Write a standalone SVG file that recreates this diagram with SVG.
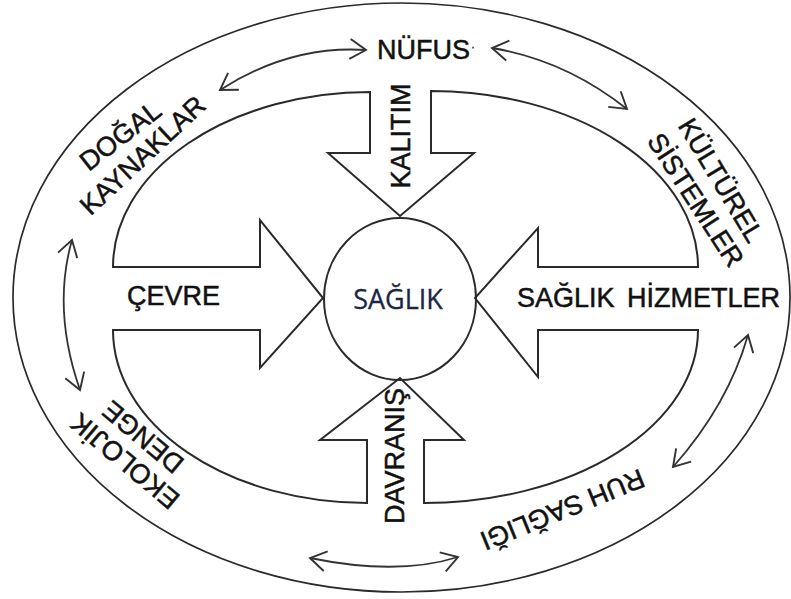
<svg xmlns="http://www.w3.org/2000/svg" width="791" height="599" viewBox="0 0 791 599">
<style>
.ln{fill:none;stroke:#2a2a2a;stroke-width:2;stroke-linejoin:miter}
.lbl{font-family:"Liberation Sans",Arial,sans-serif;font-size:27px;fill:#111;stroke:#111;stroke-width:0.5}
.con{fill:none;stroke:#333;stroke-width:1.8}
</style>
<defs>
<marker id="v" markerUnits="userSpaceOnUse" markerWidth="26" markerHeight="26" refX="0" refY="0" viewBox="-20 -13 22 26" orient="auto-start-reverse" overflow="visible">
<path d="M-16,-10 L0,0 L-16,10" fill="none" stroke="#333" stroke-width="1.9"/>
</marker>
</defs>
<rect width="791" height="599" fill="#fff"/>
<g id="outer-ring">
<ellipse cx="401.5" cy="297.5" rx="388.5" ry="294.5" class="ln" style="stroke-width:1.7"/>
</g>
<g id="arrow-frame">
<path class="ln" d="M370 92 L370 153 L328 153 L400 216 L474 153 L431 153 L431 91 A267 176 0 0 1 698 267 L538 267 L538 228 L475 298 L538 377 L538 330 L698 330 A274 173 0 0 1 424 503 L424 440 L464 440 L400 378 L320 440 L367 440 L367 503 A254 173 0 0 1 113 330 L260 330 L260 368 L323 298 L260 220 L260 267 L113 267 A257 175 0 0 1 370 92 Z"/>
</g>
<g id="saglik">
<ellipse cx="400" cy="299" rx="76" ry="81" fill="#fff" class="ln"/>
<text x="398" y="309" text-anchor="middle" style="font-family:'Open Sans','Noto Sans',sans-serif;font-size:27px;fill:#1c2645;stroke:#1c2645;stroke-width:0.3">SAĞLIK</text>
</g>
<g id="kalitim"><text class="lbl" text-anchor="middle" transform="translate(410,136) rotate(-90)">KALITIM</text></g>
<g id="cevre"><text class="lbl" x="127" y="305">ÇEVRE</text></g>
<g id="saglik-hizmetleri"><text class="lbl" x="517" y="307" style="word-spacing:5px">SAĞLIK HİZMETLER</text></g>
<g id="davranis"><text class="lbl" text-anchor="middle" transform="translate(404,456) rotate(-90)">DAVRANIŞ</text></g>
<g id="nufus"><text class="lbl" x="377" y="59">NÜFUS<tspan style="font-size:12px;stroke-width:0.2" dx="1" dy="-8">·</tspan></text></g>
<g id="dogal-kaynaklar">
<text class="lbl" text-anchor="middle" transform="translate(126,143) rotate(-38)">DOĞAL</text>
<text class="lbl" text-anchor="middle" transform="translate(149,162) rotate(-43)">KAYNAKLAR</text>
</g>
<g id="kulturel-sistemler">
<text class="lbl" text-anchor="middle" transform="translate(713,185) rotate(59)">KÜLTÜREL</text>
<text class="lbl" text-anchor="middle" transform="translate(688,205) rotate(57)">SİSTEMLER</text>
</g>
<g id="ekolojik-denge">
<text class="lbl" text-anchor="middle" transform="translate(131,454) rotate(-140)">EKOLOJİK</text>
<text class="lbl" text-anchor="middle" transform="translate(149,430) rotate(-140)">DENGE</text>
</g>
<g id="ruh-sagligi">
<text class="lbl" text-anchor="middle" transform="translate(559,501) rotate(158)">RUH SAĞLIĞI</text>
</g>
<g id="connectors">
<path class="con" d="M220 90 Q290 45 366 50" marker-start="url(#v)" marker-end="url(#v)"/>
<path class="con" d="M492 48 Q565 60 627 109" marker-start="url(#v)" marker-end="url(#v)"/>
<path class="con" d="M72 240 Q52 310 80 390" marker-start="url(#v)" marker-end="url(#v)"/>
<path class="con" d="M748 335 Q728 405 673 467" marker-start="url(#v)" marker-end="url(#v)"/>
<path class="con" d="M310 558 Q398 576 458 557" marker-start="url(#v)" marker-end="url(#v)"/>
</g>
</svg>
